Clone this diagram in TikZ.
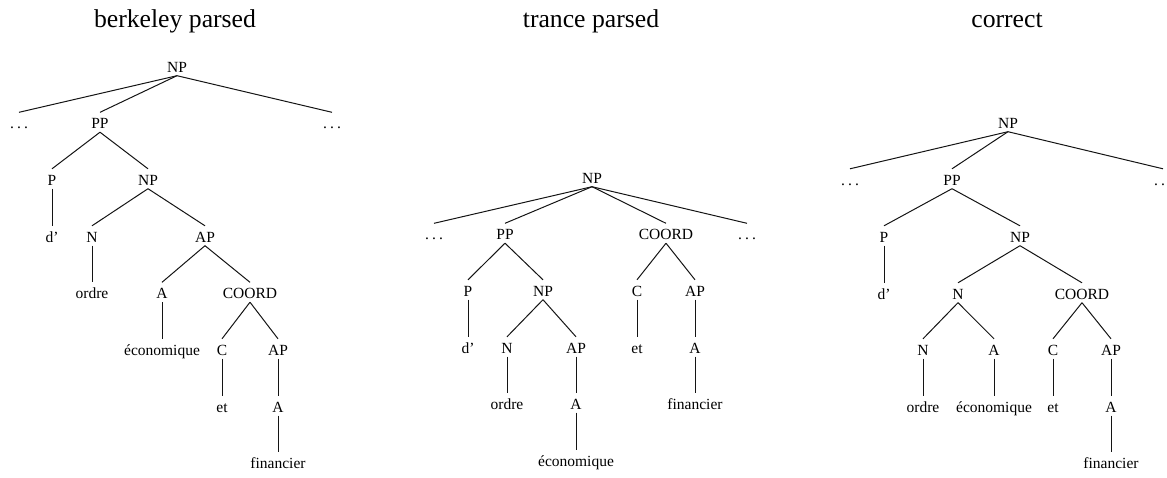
\documentclass[tikz,border=0pt]{standalone}
\usepackage{fontspec}
\setmainfont{Liberation Serif}
\usepackage{tikz}
\usetikzlibrary{positioning}
\definecolor{treeblack}{RGB}{20,20,20}
\newcommand{\treedots}{.\kern0.2em.\kern0.2em.}

\begin{document}
\begin{tikzpicture}[x=1pt,y=-1pt,
  lbl/.style={font=\fontsize{15.5}{17}\selectfont,inner sep=0pt,
              text height=16pt,text depth=3.5pt,anchor=base},
  ttl/.style={font=\fontsize{25.7}{28}\selectfont,inner sep=0pt,anchor=base},
  branch/.style={treeblack,line width=1pt}]
\useasboundingbox (0,0) rectangle (1167,477);

\begin{scope}
\node[ttl] (ktitle) at (175,27) {berkeley parsed};
\node[lbl] (kNP)    at (177,72)    {NP};
\node[lbl] (kdl)    at (19,128.5)  {\treedots};
\node[lbl] (kPP)    at (100,128.5) {PP};
\node[lbl] (kdr)    at (332,128.5) {\treedots};
\node[lbl] (kP)     at (52,185)    {P};
\node[lbl] (kNPb)   at (148,185)   {NP};
\node[lbl] (kd)     at (52,242)    {d'};
\node[lbl] (kN)     at (92,242)    {N};
\node[lbl] (kAP)    at (205,242)   {AP};
\node[lbl] (kordre) at (92,298.5)  {ordre};
\node[lbl] (kA)     at (162,298.5) {A};
\node[lbl] (kCOORD) at (250,298.5) {COORD};
\node[lbl] (keco)   at (162,355)   {économique};
\node[lbl] (kC)     at (222,355)   {C};
\node[lbl] (kAPb)   at (278,355)   {AP};
\node[lbl] (ket)    at (222,412)   {et};
\node[lbl] (kAb)    at (278,412)   {A};
\node[lbl] (kfin)   at (278,468.5) {financier};
\foreach \u/\v in {kNP/kdl,kNP/kPP,kNP/kdr,kPP/kP,kPP/kNPb,kP/kd,
                   kNPb/kN,kNPb/kAP,kN/kordre,kAP/kA,kAP/kCOORD,kA/keco,
                   kCOORD/kC,kCOORD/kAPb,kC/ket,kAPb/kAb,kAb/kfin}
  \draw[branch] (\u.south) -- (\v.north);
\end{scope}

\begin{scope}
\node[ttl] (ttitle) at (591,27) {trance parsed};
\node[lbl] (tNP)    at (592,183)   {NP};
\node[lbl] (tdl)    at (434,239.5) {\treedots};
\node[lbl] (tPP)    at (505,239.5) {PP};
\node[lbl] (tCOORD) at (666,239.5) {COORD};
\node[lbl] (tdr)    at (747,239.5) {\treedots};
\node[lbl] (tP)     at (468,296)   {P};
\node[lbl] (tNPb)   at (543,296)   {NP};
\node[lbl] (tC)     at (637,296)   {C};
\node[lbl] (tAP)    at (695,296)   {AP};
\node[lbl] (td)     at (468,353)   {d'};
\node[lbl] (tN)     at (507,353)   {N};
\node[lbl] (tAPb)   at (576,353)   {AP};
\node[lbl] (tet)    at (637,353)   {et};
\node[lbl] (tA)     at (695,353)   {A};
\node[lbl] (tordre) at (507,409)   {ordre};
\node[lbl] (tAb)    at (576,409)   {A};
\node[lbl] (tfin)   at (695,409)   {financier};
\node[lbl] (teco)   at (576,466)   {économique};
\foreach \u/\v in {tNP/tdl,tNP/tPP,tNP/tCOORD,tNP/tdr,tPP/tP,tPP/tNPb,
                   tCOORD/tC,tCOORD/tAP,tP/td,tNPb/tN,tNPb/tAPb,tC/tet,
                   tAP/tA,tN/tordre,tAPb/tAb,tA/tfin,tAb/teco}
  \draw[branch] (\u.south) -- (\v.north);
\end{scope}

\begin{scope}
\node[ttl] (ctitle) at (1007,27) {correct};
\node[lbl] (cNP)    at (1008,128)  {NP};
\node[lbl] (cdl)    at (850,185)   {\treedots};
\node[lbl] (cPP)    at (952,185)   {PP};
\node[lbl] (cdr)    at (1163,185)  {\treedots};
\node[lbl] (cP)     at (884,242)   {P};
\node[lbl] (cNPb)   at (1020,242)  {NP};
\node[lbl] (cd)     at (884,299)   {d'};
\node[lbl] (cN)     at (958,299)   {N};
\node[lbl] (cCOORD) at (1082,299)  {COORD};
\node[lbl] (cNb)    at (923,355)   {N};
\node[lbl] (cA)     at (994,355)   {A};
\node[lbl] (cC)     at (1053,355)  {C};
\node[lbl] (cAP)    at (1111,355)  {AP};
\node[lbl] (cordre) at (923,412)   {ordre};
\node[lbl] (ceco)   at (994,412)   {économique};
\node[lbl] (cet)    at (1053,412)  {et};
\node[lbl] (cAb)    at (1111,412)  {A};
\node[lbl] (cfin)   at (1111,468)  {financier};
\foreach \u/\v in {cNP/cdl,cNP/cPP,cNP/cdr,cPP/cP,cPP/cNPb,cP/cd,
                   cNPb/cN,cNPb/cCOORD,cN/cNb,cN/cA,cCOORD/cC,cCOORD/cAP,
                   cNb/cordre,cA/ceco,cC/cet,cAP/cAb,cAb/cfin}
  \draw[branch] (\u.south) -- (\v.north);
\end{scope}
\end{tikzpicture}
\end{document}
